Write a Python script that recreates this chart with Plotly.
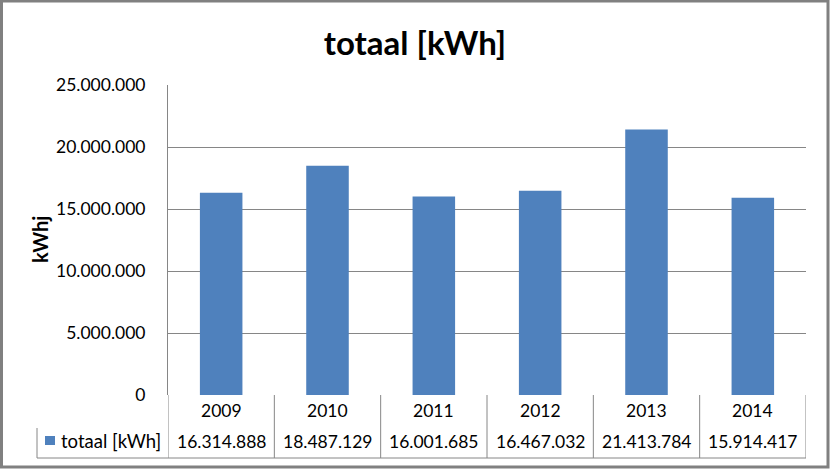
import plotly.graph_objects as go

years = ["2009", "2010", "2011", "2012", "2013", "2014"]
totals = [16314888, 18487129, 16001685, 16467032, 21413784, 15914417]
series_name = "totaal [kWh]"
y_title = "kWhj"
chart_title = "totaal [kWh]"

W, H = 830, 469
L, R, T, B = 168, 24, 85, 74
pw, ph = W - L - R, H - T - B

def px2py(py):
    return (H - B - py) / ph

def px2px(px):
    return (px - L) / pw

FONT = "Lato, Calibri, sans-serif"
GRID = "#868686"
BAR = "#4F81BD"

fig = go.Figure()
fig.add_trace(go.Bar(x=years, y=totals, marker_color=BAR, marker_line_width=0,
                     name=series_name, showlegend=False))

fig.update_layout(
    width=W, height=H,
    margin=dict(l=L, r=R, t=T, b=B),
    paper_bgcolor="white", plot_bgcolor="white",
    separators=",.",
    bargap=0.6,
    font=dict(family=FONT, size=17, color="black"),
    title=dict(text="<b>" + chart_title + "</b>", x=0.5, xanchor="center",
               xref="container", y=1 - 43 / H, yanchor="middle", yref="container",
               font=dict(family=FONT, size=33, color="black")),
    xaxis=dict(type="category", range=[-0.5, len(years) - 0.5],
               showticklabels=False, showgrid=False, ticks="", showline=False,
               zeroline=False, fixedrange=True),
    yaxis=dict(range=[0, 25000000], dtick=5000000, tickformat=",d",
               showgrid=True, gridcolor=GRID, gridwidth=1,
               zeroline=False, showline=True, linecolor=GRID, linewidth=1,
               ticks="", ticklabelstandoff=18,
               tickfont=dict(family=FONT, size=17.5, color="black")),
)

shapes = []
line = dict(color=GRID, width=1)
tbl_bot = px2py(458)
row2_top = px2py(428)
for i in range(len(years) + 1):
    shapes.append(dict(type="line", xref="x", yref="paper", x0=i - 0.5, x1=i - 0.5,
                       y0=tbl_bot, y1=0, line=line))
shapes.append(dict(type="line", xref="paper", yref="paper", x0=px2px(37), x1=1,
                   y0=tbl_bot, y1=tbl_bot, line=line))
shapes.append(dict(type="line", xref="paper", yref="paper", x0=px2px(37), x1=px2px(37),
                   y0=tbl_bot, y1=row2_top, line=line))
shapes.append(dict(type="rect", xref="paper", yref="paper", x0=px2px(45), x1=px2px(55),
                   y0=px2py(445), y1=px2py(436), fillcolor=BAR, line=dict(width=0)))
shapes.append(dict(type="rect", xref="paper", yref="paper",
                   x0=px2px(1.5), x1=px2px(W - 2), y0=px2py(H - 2), y1=px2py(1),
                   line=dict(color="#808080", width=3), fillcolor="rgba(0,0,0,0)"))
fig.update_layout(shapes=shapes)

ann = []
for i, (yr, v) in enumerate(zip(years, totals)):
    xp = px2px(L + (i + 0.5) * pw / len(years))
    ann.append(dict(x=xp, xref="paper", y=px2py(410), yref="paper", text=yr,
                    showarrow=False, xanchor="center", yanchor="middle",
                    font=dict(family=FONT, size=17.5, color="black")))
    ann.append(dict(x=xp, xref="paper", y=px2py(441), yref="paper",
                    text=f"{v:,}".replace(",", "."),
                    showarrow=False, xanchor="center", yanchor="middle",
                    font=dict(family=FONT, size=17.5, color="black")))
ann.append(dict(x=px2px(59), xref="paper", y=px2py(441), yref="paper", text=series_name,
                showarrow=False, xanchor="left", yanchor="middle",
                font=dict(family=FONT, size=18.5, color="black")))
ann.append(dict(x=px2px(40), xref="paper", y=0.5, yref="paper", text="<b>" + y_title + "</b>",
                textangle=-90, showarrow=False, xanchor="center", yanchor="middle",
                font=dict(family=FONT, size=20, color="black")))
fig.update_layout(annotations=ann)

fig.write_html("out.html")
